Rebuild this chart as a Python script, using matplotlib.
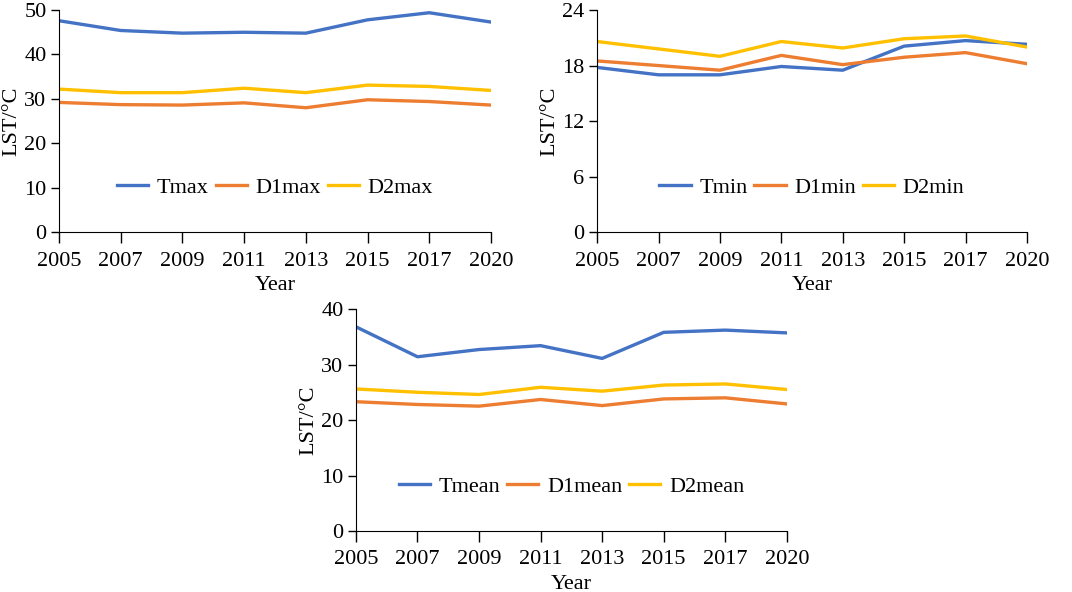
import matplotlib.pyplot as plt

plt.rcParams['font.family'] = ['Liberation Serif', 'DejaVu Serif']
plt.rcParams['font.size'] = 16

years = ["2005", "2007", "2009", "2011", "2013", "2015", "2017", "2020"]

t_max = [47.6, 45.4, 44.8, 45.0, 44.8, 47.8, 49.4, 47.3]
d1_max = [29.2, 28.7, 28.6, 29.1, 28.0, 29.8, 29.4, 28.6]
d2_max = [32.2, 31.4, 31.4, 32.4, 31.4, 33.1, 32.8, 31.9]

t_min = [17.8, 17.0, 17.0, 17.9, 17.5, 20.1, 20.7, 20.3]
d1_min = [18.5, 18.0, 17.5, 19.1, 18.1, 18.9, 19.4, 18.2]
d2_min = [20.6, 19.8, 19.0, 20.6, 19.9, 20.9, 21.2, 20.0]

t_mean = [36.8, 31.4, 32.7, 33.4, 31.1, 35.8, 36.2, 35.7]
d1_mean = [23.3, 22.8, 22.5, 23.7, 22.6, 23.8, 24.0, 22.9]
d2_mean = [25.6, 25.0, 24.6, 25.9, 25.2, 26.3, 26.5, 25.5]

colors = ['#4472C4', '#ED7D31', '#FFC000']

fig = plt.figure(figsize=(10.72, 5.92), dpi=100)
ax1 = fig.add_axes([0.055, 0.608, 0.403, 0.375])
ax2 = fig.add_axes([0.557, 0.608, 0.401, 0.375])
ax3 = fig.add_axes([0.332, 0.103, 0.402, 0.375])

panels = [
    (ax1, [t_max, d1_max, d2_max], ['Tmax', 'D1max', 'D2max'], 50, 10),
    (ax2, [t_min, d1_min, d2_min], ['Tmin', 'D1min', 'D2min'], 24, 6),
    (ax3, [t_mean, d1_mean, d2_mean], ['Tmean', 'D1mean', 'D2mean'], 40, 10),
]

x = list(range(len(years)))
for ax, series, names, top, step in panels:
    for vals, name, c in zip(series, names, colors):
        ax.plot(x, vals, color=c, lw=2.4, label=name)
    ax.set_xlim(0, len(years) - 1)
    ax.set_ylim(0, top)
    ax.set_yticks(range(0, top + 1, step))
    ax.set_xticks(x)
    ax.set_xticklabels(years)
    ax.spines['top'].set_visible(False)
    ax.spines['right'].set_visible(False)
    ax.tick_params(axis='x', length=8, width=1, pad=6)
    ax.tick_params(axis='y', length=6, width=1, pad=3)
    ax.set_xlabel("Year", labelpad=4)
    ax.set_ylabel("LST/°C", labelpad=2)
    ax.legend(loc='center', bbox_to_anchor=(0.5, 0.2), ncol=3, frameon=False,
              handlelength=1.4, columnspacing=0.3, handletextpad=0.4)

fig.savefig("out.png", dpi=100)
